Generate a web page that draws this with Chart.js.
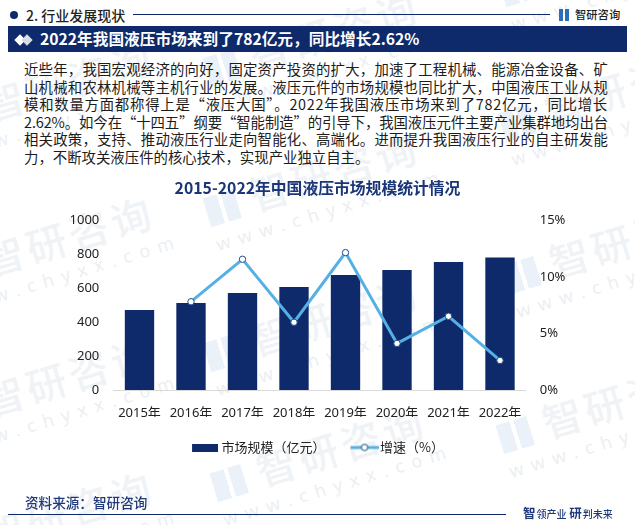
<!DOCTYPE html>
<html><head><meta charset="utf-8">
<script src="https://cdn.jsdelivr.net/npm/chart.js@4"></script>
<style>
html,body{margin:0;padding:0;background:#fff;overflow:hidden}
body{width:635px;height:525px;position:relative;font-family:"Noto Sans","Noto Sans CJK SC",sans-serif;color:#1a1a1a}
.a{position:absolute;white-space:nowrap}
.wm{position:absolute;color:#f0f3f6;transform:rotate(-17deg);transform-origin:left top;white-space:nowrap;font-weight:500;font-size:40px;letter-spacing:4px;line-height:46px;font-family:"Noto Sans CJK SC",sans-serif}
.wm small{display:block;font-family:"Noto Sans",sans-serif;font-size:18px;font-weight:400;letter-spacing:8px;line-height:24px;margin-top:2px;color:#ebeff3}
.wm i{display:inline-block;width:32px;height:30px;margin-right:14px;vertical-align:-2px;background:linear-gradient(90deg,#eaf1f8 0 45%,transparent 45% 58%,#eaf1f8 58%)}
.line{left:24px;font-size:14.4px;line-height:18px;height:18px;color:#1c1c1c;font-family:"Noto Sans CJK SC",sans-serif}
canvas{position:absolute;left:0;top:0}
</style></head><body>
<div id="wms"></div>

<div class="a" style="left:9.5px;top:10.5px;width:8px;height:8px;border-radius:50%;background:#0e2a6b"></div>
<div class="a" style="left:26px;top:4px;font-size:14px;line-height:22px;color:#222;font-weight:500;font-family:'Noto Sans CJK SC'">2. 行业发展现状</div>
<div class="a" style="left:133px;top:14px;width:417px;height:1px;background:#0e2a6b"></div>
<div class="a" style="left:559px;top:9px;width:4px;height:12px;background:#2d6fb5"></div>
<div class="a" style="left:565px;top:9px;width:4px;height:12px;background:#2d6fb5"></div>
<div class="a" style="left:575px;top:3px;font-size:11.3px;line-height:22px;color:#222;font-weight:500;font-family:'Noto Sans CJK SC'">智研咨询</div>
<div class="a" style="left:8px;top:26px;width:619px;height:26px;background:#0e2a6b"></div>
<div class="a" style="left:16px;top:35.5px;width:8px;height:8px;background:#fff;transform:rotate(45deg)"></div>
<div class="a" style="left:23px;top:35.5px;width:8px;height:8px;background:#d9dde6;transform:rotate(45deg)"></div>
<div class="a" style="left:40px;top:26px;font-size:15.7px;line-height:26px;color:#fff;font-weight:700;font-family:'Noto Sans CJK SC'">2022年我国液压市场来到了782亿元，同比增长2.62%</div>

<div id="body"></div>

<canvas id="c" width="635" height="525"></canvas>

<div class="a" style="left:25px;top:492px;font-size:13.6px;line-height:20px;color:#1f3a7a;font-weight:500;font-family:'Noto Sans CJK SC'">资料来源：智研咨询</div>
<div class="a" style="left:8px;top:514px;width:498px;height:1px;background:#0e2a6b"></div>
<div class="a" style="left:523px;top:503px;font-size:12.5px;line-height:20px;color:#1f3a7a;font-weight:700;font-family:'Noto Sans CJK SC'">智<span style="font-weight:500;font-size:10px;margin-left:1px">领产业</span>&nbsp;研<span style="font-weight:500;font-size:10px;margin-left:1px">判未来</span></div>

<script>
const bodyLines = [
 "近些年，我国宏观经济的向好，固定资产投资的扩大，加速了工程机械、能源冶金设备、矿",
 "山机械和农林机械等主机行业的发展。液压元件的市场规模也同比扩大，中国液压工业从规",
 "模和数量方面都称得上是“液压大国”。2022年我国液压市场来到了782亿元，同比增长",
 "2.62%。如今在“十四五”纲要“智能制造”的引导下，我国液压元件主要产业集群地均出台",
 "相关政策，支持、推动液压行业走向智能化、高端化。进而提升我国液压行业的自主研发能",
 "力，不断攻关液压件的核心技术，实现产业独立自主。"
];
const chartTitle = "2015-2022年中国液压市场规模统计情况";
const categories = ["2015年","2016年","2017年","2018年","2019年","2020年","2021年","2022年"];
const marketSize = [472,514,573,608,679,709,756,782];
const growth = [null,7.82,11.58,6.0,12.17,4.13,6.53,2.62];
const leftTicks = [0,200,400,600,800,1000];
const rightTicks = [0,5,10,15];
const NAVY = "#0e2a6b", BLUE = "#55b0e6";

const wmAnchors = [[215,65],[215,205],[215,350],[222,480],[510,-15],[510,120],[515,272],[508,432],[-50,115],[-50,270],[-50,410],[-50,545]];
document.getElementById("wms").innerHTML = wmAnchors.map(([x,y])=>
 `<div class="wm" style="left:${x-16}px;top:${y-18}px"><i></i>智研咨询<small>www.chyxx.com</small></div>`).join("");

const bodyBox = document.getElementById("body");
bodyLines.forEach((t,i)=>{
 const d = document.createElement("div");
 d.className = "a line";
 d.style.top = (60+i*17.5)+"px";
 d.textContent = t;
 bodyBox.appendChild(d);
 if(i<bodyLines.length-1){
  const w = d.getBoundingClientRect().width;
  d.style.letterSpacing = ((584-w)/t.length)+"px";
 }
});

function barSwatch(){
 const c=document.createElement("canvas");c.width=30;c.height=8;
 const g=c.getContext("2d");g.fillStyle=NAVY;g.fillRect(4,0,26,8);return c;
}
function lineSwatch(){
 const c=document.createElement("canvas");c.width=34;c.height=10;
 const g=c.getContext("2d");g.fillStyle=BLUE;g.fillRect(6,3.5,28,3);
 g.beginPath();g.arc(20,5,3.2,0,Math.PI*2);g.fillStyle="#fff";g.fill();
 g.lineWidth=1;g.strokeStyle="#1f4e8c";g.stroke();return c;
}

const FONT = '"Noto Sans","Noto Sans CJK SC",sans-serif';
Chart.defaults.font.family = FONT;
new Chart(document.getElementById("c"),{
 data:{labels:categories,datasets:[
  {type:"bar",label:"市场规模（亿元）",data:marketSize,yAxisID:"yLeft",order:1,backgroundColor:NAVY,barPercentage:0.57,categoryPercentage:1},
  {type:"line",label:"增速（%）",data:growth,yAxisID:"yRight",order:0,borderColor:BLUE,borderWidth:3,
   backgroundColor:"#fff",pointBackgroundColor:"#fff",pointBorderColor:"#1f4e8c",pointBorderWidth:1,pointRadius:3.2,tension:0}
 ]},
 options:{
  responsive:false,animation:false,
  layout:{padding:{left:0,right:0,top:0,bottom:61}},
  plugins:{
   title:{display:true,text:chartTitle,color:"#1a3578",font:{size:15.8,weight:"700",family:'"Noto Sans CJK SC",sans-serif'},padding:{top:178.5,bottom:23.2}},
   legend:{position:"bottom",labels:{usePointStyle:true,pointStyleWidth:24,color:"#222",font:{size:13,family:'"Noto Sans CJK SC",sans-serif'},boxHeight:8,padding:24,
     generateLabels(chart){
       return chart.data.datasets.map((d,i)=>({text:d.label,datasetIndex:i,pointStyle:d.type==="bar"?barSwatch():lineSwatch(),fontColor:"#222",hidden:false,lineWidth:0}));
     }}},
   tooltip:{enabled:false}
  },
  scales:{
   x:{grid:{display:false,drawTicks:false},border:{color:"#d9d9d9"},
      afterFit(a){a.height=27},
      ticks:{color:"#222",font:{size:13},padding:15,maxRotation:0,autoSkip:false}},
   yLeft:{axis:"y",position:"left",min:0,max:1000,grid:{display:false,drawTicks:false},border:{display:false},
      afterBuildTicks(a){a.ticks=leftTicks.map(v=>({value:v}))},
      afterFit(a){a.width=113.75},
      ticks:{color:"#222",font:{size:13},padding:14.5,callback:v=>String(v)}},
   yRight:{axis:"y",position:"right",min:0,max:15,grid:{display:false,drawTicks:false},border:{display:false},
      afterBuildTicks(a){a.ticks=rightTicks.map(v=>({value:v}))},
      afterFit(a){a.width=109.25},
      ticks:{color:"#222",font:{size:13},padding:14,callback:v=>v+"%"}}
  }
 }
});
</script>
</body></html>
